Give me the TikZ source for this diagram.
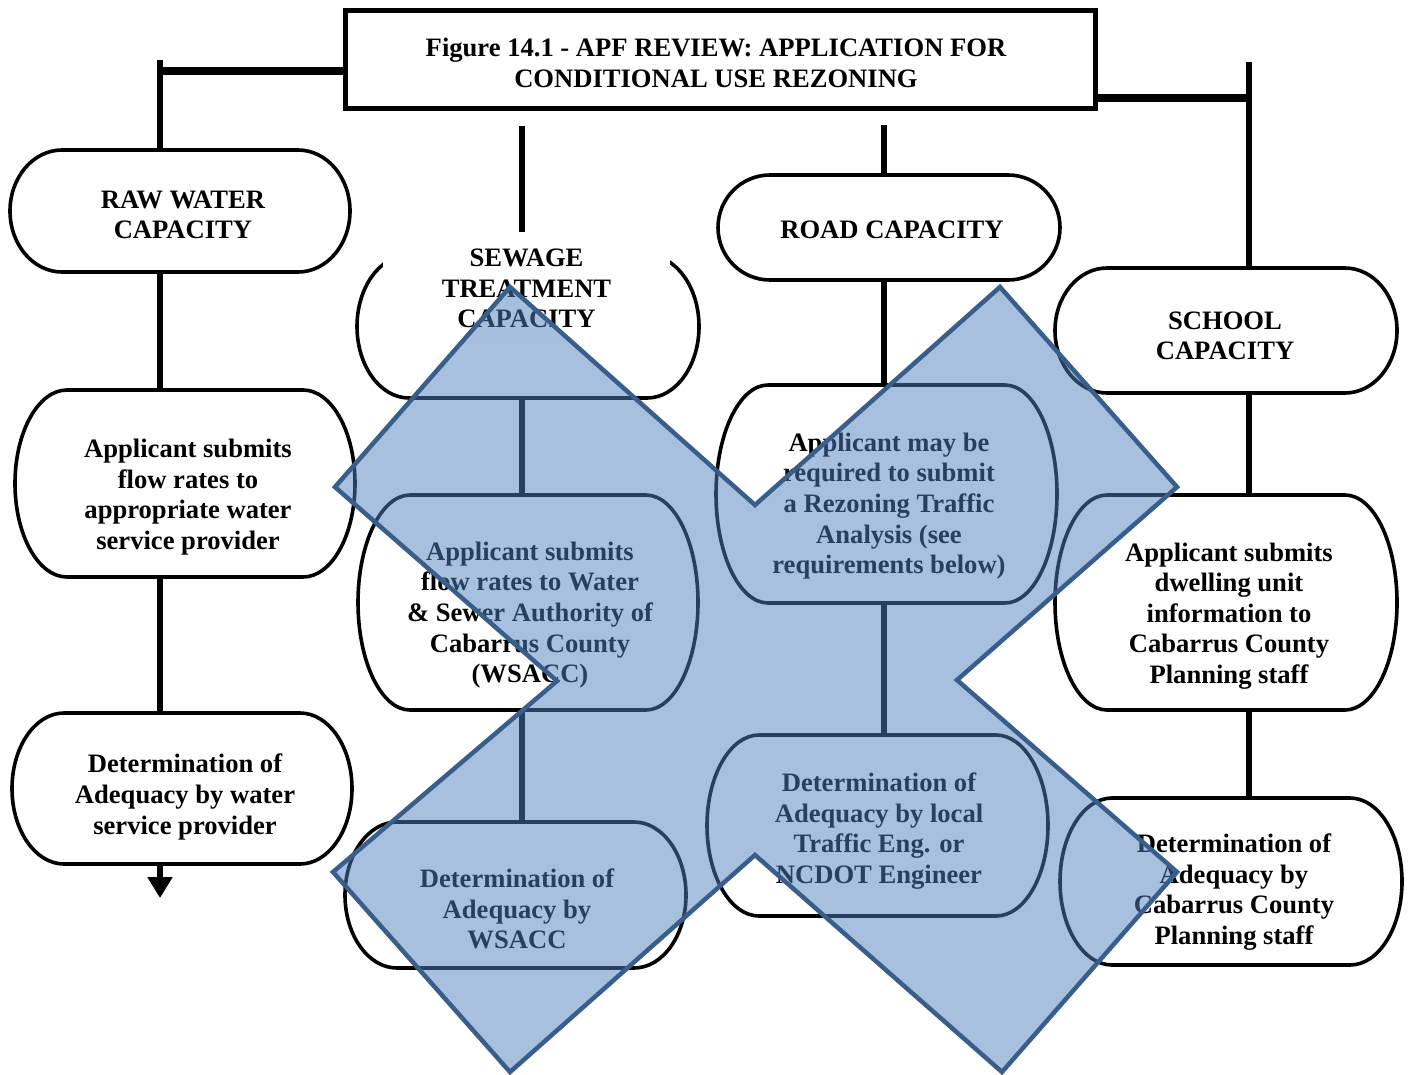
\documentclass[tikz,border=0pt]{standalone}
\usepackage{fontspec}
\setmainfont{Liberation Serif}
\usetikzlibrary{arrows.meta,calc}
\definecolor{xfill}{HTML}{4F81BD}
\definecolor{xline}{HTML}{3A5E8C}
\tikzset{
  capbox/.style={rectangle, inner sep=0pt, outer sep=0pt},
  capline/.style={line width=3.6pt, black},
  lbl/.style={align=center, inner sep=0pt, font=\fontsize{26.6}{30.6}\selectfont\bfseries},
  link/.style={line width=6.6pt, black},
  hlink/.style={line width=8pt, black},
}
% rounded box with half-elliptic ends, drawn round a named node
\newcommand\capoutline[1]{%
  \draw[capline] let \p1=(#1.north west), \p2=(#1.south east), \n1={(\y1-\y2)/2} in
    (\x1+52pt,\y1) -- (\x2-52pt,\y1)
    arc[start angle=90, end angle=-90, x radius=52pt, y radius={\n1*1pt}]
    -- (\x1+52pt,\y2)
    arc[start angle=270, end angle=90, x radius=52pt, y radius={\n1*1pt}] -- cycle;}
\begin{document}
\begin{tikzpicture}[x=1pt, y=-1pt]
\useasboundingbox (0,0) rectangle (1408,1074);

% title
\node[draw, line width=5pt, minimum width=750pt, minimum height=98pt, inner sep=0pt] (title) at (720,59) {};

% boxes
\node[capbox, minimum width=340pt, minimum height=122pt] (raw) at (180,211) {};
\node[capbox, minimum width=340pt, minimum height=187pt] (rawsub) at (185,483.5) {};
\node[capbox, minimum width=340pt, minimum height=151pt] (rawdet) at (182,788.5) {};
\node[capbox, minimum width=342pt, minimum height=143pt] (sew) at (528,326.5) {};
\node[capbox, minimum width=340pt, minimum height=215pt] (sewsub) at (528,602.5) {};
\node[capbox, minimum width=341pt, minimum height=146pt] (sewdet) at (515.5,895) {};
\node[capbox, minimum width=342pt, minimum height=105pt] (road) at (889,227.5) {};
\node[capbox, minimum width=341pt, minimum height=218pt] (roadsub) at (886.5,494) {};
\node[capbox, minimum width=341pt, minimum height=181pt] (roaddet) at (877.5,825.5) {};
\node[capbox, minimum width=342pt, minimum height=125pt] (school) at (1226,330.5) {};
\node[capbox, minimum width=342pt, minimum height=215pt] (schoolsub) at (1226,602.5) {};
\node[capbox, minimum width=342pt, minimum height=167pt] (schooldet) at (1231,881.5) {};

% connector anchors
\coordinate (j1) at (160,71);
\coordinate (t1) at (160,60);
\coordinate (tip1) at (160,898);
\coordinate (t2) at (522,126);
\coordinate (t3) at (884,125);
\coordinate (j4) at (1249,98);
\coordinate (t4) at (1249,62);

% connectors
\draw[hlink] (title.west |- j1) -- (j1);
\draw[link] (t1) -- (raw.north -| t1);
\draw[link] (raw.south -| t1) -- (rawsub.north -| t1);
\draw[link] (rawsub.south -| t1) -- (rawdet.north -| t1);
\draw[link, -{Triangle[width=24pt,length=21pt]}] (rawdet.south -| t1) -- (tip1);

\draw[link] (t2) -- (sew.north -| t2);
\draw[link] (sew.south -| t2) -- (sewsub.north -| t2);
\draw[link] (sewsub.south -| t2) -- (sewdet.north -| t2);

\draw[link] (t3) -- (road.north -| t3);
\draw[link] (road.south -| t3) -- (roadsub.north -| t3);
\draw[link] (roadsub.south -| t3) -- (roaddet.north -| t3);

\draw[hlink] (title.east |- j4) -- (j4);
\draw[link] (t4) -- (school.north -| t4);
\draw[link] (school.south -| t4) -- (schoolsub.north -| t4);
\draw[link] (schoolsub.south -| t4) -- (schooldet.north -| t4);

% outlines
\foreach \bx in {raw,rawsub,rawdet,sew,sewsub,sewdet,road,roadsub,roaddet,school,schoolsub,schooldet}
  {\capoutline{\bx}}

% texts
\node[lbl] (title-t) at (716,63) {Figure 14.1 - APF REVIEW: APPLICATION FOR\\CONDITIONAL USE REZONING};
\node[lbl] (raw-t) at (183,215) {RAW WATER\\CAPACITY};
\node[lbl] (rawsub-t) at (188,497) {Applicant submits\\flow rates to\\appropriate water\\service provider};
\node[lbl] (rawdet-t) at (185,797) {Determination of\\Adequacy by water\\service provider};
\node[lbl, fill=white, minimum width=287pt, minimum height=113pt] (sew-t) at (526.5,288.5) {SEWAGE\\TREATMENT\\CAPACITY};
\node[lbl] (sewsub-t) at (530,615) {Applicant submits\\flow rates to Water\\\& Sewer Authority of\\Cabarrus County\\(WSACC)};
\node[lbl] (sewdet-t) at (517,909) {Determination of\\Adequacy by\\WSACC};
\node[lbl] (road-t) at (892,230) {ROAD CAPACITY};
\node[lbl] (roadsub-t) at (889,506) {Applicant may be\\required to submit\\a Rezoning Traffic\\Analysis (see\\requirements below)};
\node[lbl] (roaddet-t) at (879,831) {Determination of\\Adequacy by local\\Traffic Eng. or\\NCDOT Engineer};
\node[lbl] (school-t) at (1225,336) {SCHOOL\\CAPACITY};
\node[lbl] (schoolsub-t) at (1229,616) {Applicant submits\\dwelling unit\\information to\\Cabarrus County\\Planning staff};
\node[lbl] (schooldet-t) at (1234,892) {Determination of\\Adequacy by\\Cabarrus County\\Planning staff};

% translucent cross laid over the middle columns
\draw[line width=4.5pt, draw=xline, fill=xfill, fill opacity=0.5, line join=miter]
  (510,287) -- (755,505) -- (1000,287) -- (1177,487) -- (957,680) -- (1177,872)
  -- (1002,1072) -- (755,855) -- (510,1072) -- (333,872) -- (557,681) -- (335,487) -- cycle;
\end{tikzpicture}
\end{document}
